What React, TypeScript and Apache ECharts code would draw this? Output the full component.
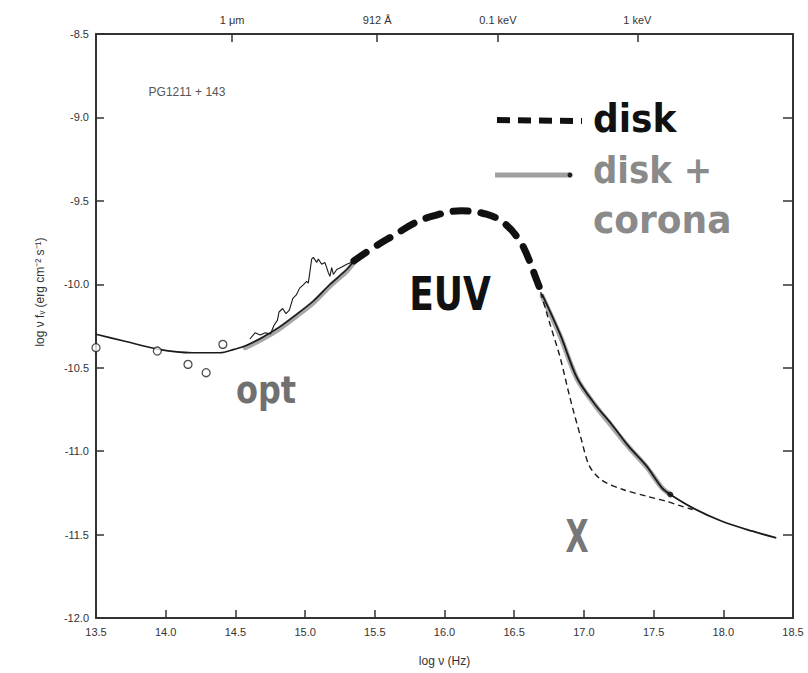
import React, { useEffect, useRef } from 'react';
import * as echarts from 'echarts';

// ---- axis ticks ----
const bottomTickLabels = ['13.5', '14.0', '14.5', '15.0', '15.5', '16.0', '16.5', '17.0', '17.5', '18.0', '18.5'];
const leftTickLabels = ['-12.0', '-11.5', '-11.0', '-10.5', '-10.0', '-9.5', '-9.0', '-8.5'];
const topTickValues = [14.477, 15.517, 16.383, 17.383];
const topTickLabels = ['1 μm', '912 Å', '0.1 keV', '1 keV'];

// ---- optical photometry (open circles) ----
const optX = [13.5, 13.94, 14.16, 14.29, 14.41];
const optY = [-10.38, -10.40, -10.48, -10.53, -10.36];

// ---- model curve, IR/optical part (thin solid) ----
const modelOptX = [13.5, 13.7, 13.95, 14.19, 14.39, 14.49, 14.57, 14.69, 14.81, 14.94, 15.06, 15.18, 15.3, 15.35];
const modelOptY = [-10.30, -10.34, -10.39, -10.41, -10.41, -10.39, -10.37, -10.32, -10.26, -10.18, -10.10, -10.00, -9.91, -9.86];

// ---- observed optical/UV spectrum (jagged) ----
const specX = [14.604, 14.641, 14.678, 14.715, 14.752, 14.776, 14.801, 14.813, 14.839, 14.863, 14.887, 14.912, 14.937, 14.961, 14.987, 15.011, 15.023, 15.035, 15.047, 15.059, 15.083, 15.095, 15.119, 15.142, 15.167, 15.178, 15.191, 15.203, 15.227, 15.263, 15.299, 15.347];
const specY = [-10.328, -10.291, -10.304, -10.291, -10.298, -10.247, -10.216, -10.166, -10.145, -10.176, -10.155, -10.084, -10.064, -10.023, -10.003, -9.983, -9.993, -9.921, -9.849, -9.839, -9.869, -9.849, -9.880, -9.869, -9.931, -9.952, -9.900, -9.941, -9.911, -9.896, -9.880, -9.863];

// ---- disk, EUV part (thick dashed) ----
const euvX = [15.35, 15.49, 15.65, 15.78, 15.90, 16.12, 16.30, 16.43, 16.54, 16.60, 16.65, 16.70];
const euvY = [-9.86, -9.78, -9.70, -9.635, -9.595, -9.56, -9.58, -9.635, -9.74, -9.84, -9.95, -10.06];

// ---- disk + corona, X-ray part (solid) ----
const xrayX = [16.70, 16.83, 16.95, 17.08, 17.20, 17.32, 17.45, 17.56, 17.62, 17.78, 17.99, 18.21, 18.38];
const xrayY = [-10.06, -10.30, -10.56, -10.72, -10.84, -10.97, -11.09, -11.22, -11.26, -11.34, -11.42, -11.48, -11.52];

// ---- disk only, X-ray part (thin dashed) ----
const diskXrayX = [16.67, 16.75, 16.83, 16.90, 16.98, 17.04, 17.13, 17.28, 17.45, 17.59, 17.70, 17.78];
const diskXrayY = [-9.99, -10.22, -10.44, -10.68, -10.925, -11.09, -11.175, -11.23, -11.27, -11.30, -11.33, -11.35];

// ---- grey "disk + corona" highlight bands ----
const greyOptX = [14.57, 14.69, 14.81, 14.94, 15.06, 15.18, 15.30, 15.35];
const greyOptY = [-10.38, -10.33, -10.27, -10.19, -10.11, -10.01, -9.92, -9.87];
const greyXrayX = [16.70, 16.83, 16.95, 17.08, 17.20, 17.32, 17.45, 17.56, 17.62];
const greyXrayY = [-10.07, -10.31, -10.565, -10.725, -10.85, -10.975, -11.095, -11.22, -11.26];

// ---- X-ray data point ----
const xPointX = [17.62];
const xPointY = [-11.26];

const zip = (xs: number[], ys: number[]) => xs.map((x, i) => [x, ys[i]]);

const FONT = "'Liberation Sans', Arial, sans-serif";
const HAND = "'DejaVu Sans', 'Noto Sans', sans-serif";
const AX = '#333';

function buildOption(): any {
  const xMin = parseFloat(bottomTickLabels[0]);
  const xMax = parseFloat(bottomTickLabels[bottomTickLabels.length - 1]);
  const yMin = parseFloat(leftTickLabels[0]);
  const yMax = parseFloat(leftTickLabels[leftTickLabels.length - 1]);
  const axisLineStyle = { color: AX, width: 2 };
  return {
    animation: false,
    backgroundColor: '#fff',
    grid: { left: 96, right: 15, top: 34, bottom: 55 },
    xAxis: [
      {
        type: 'value', position: 'bottom', min: xMin, max: xMax, interval: 0.5,
        axisLine: { show: true, onZero: false, lineStyle: axisLineStyle },
        axisTick: { show: true, inside: true, length: 8, lineStyle: { color: AX, width: 1.5 } },
        axisLabel: { show: true, margin: 8, color: '#333', fontSize: 11, fontFamily: FONT, showMinLabel: true, showMaxLabel: true,
          formatter: (v: number) => v.toFixed(1) },
        splitLine: { show: false },
        name: 'log ν (Hz)', nameLocation: 'middle', nameGap: 37,
        nameTextStyle: { color: '#333', fontSize: 12, fontFamily: FONT },
      },
      {
        type: 'value', position: 'top', min: xMin, max: xMax,
        axisLine: { show: true, onZero: false, lineStyle: axisLineStyle },
        axisTick: { show: true, inside: true, length: 8, customValues: topTickValues, lineStyle: { color: AX, width: 1.5 } },
        axisLabel: { show: true, margin: 9, color: '#333', fontSize: 11, fontFamily: FONT, customValues: topTickValues,
          formatter: (v: number) => {
            const i = topTickValues.findIndex((t) => Math.abs(t - v) < 1e-6);
            return i >= 0 ? topTickLabels[i] : '';
          } },
        splitLine: { show: false },
      },
    ],
    yAxis: [
      {
        type: 'value', position: 'left', min: yMin, max: yMax, interval: 0.5,
        axisLine: { show: true, onZero: false, lineStyle: axisLineStyle },
        axisTick: { show: true, inside: true, length: 8, lineStyle: { color: AX, width: 1.5 } },
        axisLabel: { show: true, margin: 7, color: '#333', fontSize: 11, fontFamily: FONT, showMinLabel: true, showMaxLabel: true,
          formatter: (v: number) => v.toFixed(1) },
        splitLine: { show: false },
      },
      {
        type: 'value', position: 'right', min: yMin, max: yMax, interval: 0.5,
        axisLine: { show: true, onZero: false, lineStyle: axisLineStyle },
        axisTick: { show: true, inside: true, length: 10, lineStyle: { color: AX, width: 1.5 } },
        axisLabel: { show: false },
        splitLine: { show: false },
      },
    ],
    series: [
      {
        name: 'disk + corona (optical)', type: 'line', data: zip(greyOptX, greyOptY), showSymbol: false, smooth: 0.3, z: 1,
        lineStyle: { color: '#a8a8a8', width: 5, cap: 'round' },
      },
      {
        name: 'disk + corona (X-ray band)', type: 'line', data: zip(greyXrayX, greyXrayY), showSymbol: false, smooth: 0.3, z: 1,
        lineStyle: { color: '#a8a8a8', width: 5, cap: 'round' },
      },
      {
        name: 'model', type: 'line', data: zip(modelOptX, modelOptY), showSymbol: false, smooth: 0.3, z: 3,
        lineStyle: { color: '#1a1a1a', width: 1.6 },
      },
      {
        name: 'spectrum', type: 'line', data: zip(specX, specY), showSymbol: false, z: 3,
        lineStyle: { color: '#1a1a1a', width: 1.1 },
      },
      {
        name: 'disk (EUV)', type: 'line', data: zip(euvX, euvY), showSymbol: false, smooth: 0.4, z: 4,
        lineStyle: { color: '#111', width: 7, type: [15, 13], cap: 'round' },
      },
      {
        name: 'disk (X-ray)', type: 'line', data: zip(diskXrayX, diskXrayY), showSymbol: false, smooth: 0.3, z: 3,
        lineStyle: { color: '#1a1a1a', width: 1.4, type: [6, 4] },
      },
      {
        name: 'disk + corona (X-ray)', type: 'line', data: zip(xrayX, xrayY), showSymbol: false, smooth: 0.3, z: 3,
        lineStyle: { color: '#1a1a1a', width: 1.8 },
      },
      {
        name: 'photometry', type: 'scatter', data: zip(optX, optY), symbol: 'circle', symbolSize: 8, z: 5,
        itemStyle: { color: '#fff', borderColor: '#222', borderWidth: 1.3 },
      },
      {
        name: 'X-ray point', type: 'scatter', data: zip(xPointX, xPointY), symbol: 'circle', symbolSize: 6, z: 5,
        itemStyle: { color: '#111' },
      },
    ],
    graphic: [
      { type: 'text', x: 40, y: 292, rotation: Math.PI / 2,
        style: { text: 'log ν fᵥ (erg cm⁻² s⁻¹)', fill: '#333', font: `12px ${FONT}`, align: 'center', verticalAlign: 'middle', textAlign: 'center', textVerticalAlign: 'middle' } },
      { type: 'text', x: 187, y: 92,
        style: { text: 'PG1211 + 143', fill: '#555', font: `12px ${FONT}`, align: 'center', verticalAlign: 'middle', textAlign: 'center', textVerticalAlign: 'middle' } },
      // legend
      { type: 'line', shape: { x1: 497, y1: 120, x2: 582, y2: 121 }, style: { stroke: '#111', lineWidth: 6, lineDash: [13, 8] } },
      { type: 'text', x: 593, y: 118, scaleY: 1.1,
        style: { text: 'disk', fill: '#111', font: `bold 36px ${HAND}`, align: 'left', verticalAlign: 'middle', textAlign: 'left', textVerticalAlign: 'middle' } },
      { type: 'line', shape: { x1: 495, y1: 175, x2: 570, y2: 175 }, style: { stroke: '#a0a0a0', lineWidth: 5 } },
      { type: 'circle', shape: { cx: 570, cy: 175, r: 2.5 }, style: { fill: '#222' } },
      { type: 'text', x: 593, y: 170, scaleY: 1.1,
        style: { text: 'disk +', fill: '#8a8a8a', font: `bold 34px ${HAND}`, align: 'left', verticalAlign: 'middle', textAlign: 'left', textVerticalAlign: 'middle' } },
      { type: 'text', x: 593, y: 219, scaleY: 1.1,
        style: { text: 'corona', fill: '#8a8a8a', font: `bold 36px ${HAND}`, align: 'left', verticalAlign: 'middle', textAlign: 'left', textVerticalAlign: 'middle' } },
      // annotations
      { type: 'text', x: 450, y: 294, scaleY: 1.3,
        style: { text: 'EUV', fill: '#111', font: `bold 36px ${HAND}`, align: 'center', verticalAlign: 'middle', textAlign: 'center', textVerticalAlign: 'middle' } },
      { type: 'text', x: 266, y: 390, scaleY: 1.15,
        style: { text: 'opt', fill: '#707070', font: `bold 32px ${HAND}`, align: 'center', verticalAlign: 'middle', textAlign: 'center', textVerticalAlign: 'middle' } },
      { type: 'text', x: 577, y: 537, scaleY: 1.5,
        style: { text: 'X', fill: '#777', font: `bold 30px ${HAND}`, align: 'center', verticalAlign: 'middle', textAlign: 'center', textVerticalAlign: 'middle' } },
    ],
  };
}

export default function App() {
  const ref = useRef<HTMLDivElement>(null);
  useEffect(() => {
    if (!ref.current) return;
    const chart = echarts.init(ref.current, null, { renderer: 'svg' });
    chart.setOption(buildOption());
    return () => chart.dispose();
  }, []);
  return (
    <div
      ref={ref}
      style={{ position: 'fixed', left: 0, top: 0, width: 808, height: 673, background: '#fff' }}
    />
  );
}
